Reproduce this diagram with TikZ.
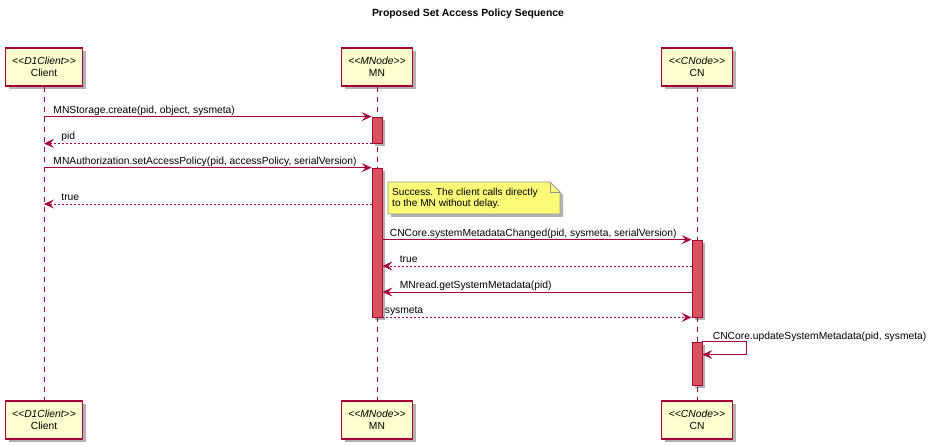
\documentclass[tikz,border=0pt]{standalone}
\usepackage{fontspec}
\setmainfont{Liberation Sans}
\usetikzlibrary{positioning}
\usetikzlibrary{arrows.meta}
\usetikzlibrary{shadows}
\definecolor{umlred}{RGB}{168,0,54}
\definecolor{partfill}{RGB}{254,254,206}
\definecolor{actfill}{RGB}{215,82,92}
\definecolor{notefill}{RGB}{251,251,119}
\definecolor{notegray}{RGB}{150,150,150}
\newcommand{\msgfont}{\fontsize{10.3}{12}\selectfont}
\newcommand{\stereo}[1]{\textit{<\kern0pt<#1>\kern0pt>}}
\frenchspacing
\tikzset{
  umlshadow/.style={drop shadow={shadow xshift=3pt, shadow yshift=-3pt, fill=black, opacity=.3}},
  part/.style={draw=umlred, line width=1.3pt, fill=partfill, minimum width=71pt, minimum height=38pt,
    align=center, font=\msgfont, inner sep=0pt, umlshadow},
  actbar/.style={draw=umlred, line width=0.8pt, fill=actfill, minimum width=10pt, inner sep=0pt, umlshadow},
  life/.style={draw=umlred, line width=0.8pt, dash pattern=on 5pt off 5pt},
  msg/.style={draw=umlred, line width=0.9pt, -{Stealth[length=10pt,width=9pt,inset=4pt]}},
  ret/.style={msg, dash pattern=on 2pt off 2pt},
  lbl/.style={font=\msgfont, anchor=base west, inner sep=0pt, yshift=3.5pt, text=black},
}

\begin{document}
\begin{tikzpicture}[x=1pt, y=-1pt]
	\useasboundingbox (0,0) rectangle (936,446);
	
	\node[font=\bfseries\fontsize{10.4}{12}\selectfont] (title) at (468,14) {Proposed Set Access Policy Sequence};
	
	% participants
	\node[part, minimum width=77pt] (cliT) at (44,67) {\stereo{D1Client}\\Client};
	\node[part] (mnT) at (377,67) {\stereo{MNode}\\MN};
	\node[part] (cnT) at (697,67) {\stereo{CNode}\\CN};
	
	\node[part, minimum width=77pt] (cliB) at (44,420) {\stereo{D1Client}\\Client};
	\node[part] (mnB) at (377,420) {\stereo{MNode}\\MN};
	\node[part] (cnB) at (697,420) {\stereo{CNode}\\CN};
	
	\draw[life] (cliT) -- (cliB);
	\draw[life] (mnT) -- (mnB);
	\draw[life] (cnT) -- (cnB);
	
	% activations
	\node[actbar, minimum height=26pt] (mnA1) at (377,130) {};
	\node[actbar, minimum height=149pt] (mnA2) at (377,242.5) {};
	\node[actbar, minimum height=77pt] (cnA1) at (697,278.5) {};
	\node[actbar, minimum height=43pt] (cnA2) at (697,363.5) {};
	
	% messages
	\draw[msg] (cliT |- mnA1.north) -- (mnA1.north west) node[lbl, pos=0, xshift=9pt] {MNStorage.create(pid, object, sysmeta)};
	\draw[ret] (mnA1.south west) -- (cliT |- mnA1.south) node[lbl, pos=1, xshift=17pt] {pid};
	
	\draw[msg] (cliT |- mnA2.north) -- (mnA2.north west) node[lbl, pos=0, xshift=9pt] {MNAuthorization.setAccessPolicy(pid, accessPolicy, serialVersion)};
	\draw[ret] (mnA2.west |- 0,204) -- (cliT |- 0,204) node[lbl, pos=1, xshift=17pt] {true};
	
	% note
	\fill[black, opacity=.3] (391,185) -- (553,185) -- (563,195) -- (563,217) -- (391,217) -- cycle;
	\filldraw[draw=notegray, fill=notefill, line width=0.8pt] (388,182) -- (550,182) -- (560,192) -- (560,214) -- (388,214) -- cycle;
	\draw[notegray, line width=0.8pt] (550,182) -- (550,192) -- (560,192);
	\node[font=\fontsize{10.1}{11.5}\selectfont, align=left, anchor=west, inner sep=0pt] (note) at (392,198.5) {Success. The client calls directly\\to the MN without delay.};
	
	\draw[msg] (mnA2.east |- cnA1.north) -- (cnA1.north west) node[lbl, pos=0, xshift=7pt] {CNCore.systemMetadataChanged(pid, sysmeta, serialVersion)};
	\draw[ret] (cnA1.west |- 0,266) -- (mnA2.east |- 0,266) node[lbl, pos=1, xshift=17pt] {true};
	\draw[msg] (cnA1.west |- 0,292) -- (mnA2.east |- 0,292) node[lbl, pos=1, xshift=17pt] {MNread.getSystemMetadata(pid)};
	\draw[ret] (mnA2.south east) -- (cnA1.south west) node[lbl, pos=0, xshift=2pt] {sysmeta};
	
	\draw[msg] (cnA2.north east) node[lbl, xshift=10pt, yshift=-1pt] {CNCore.updateSystemMetadata(pid, sysmeta)} -- ++(44,0) -- ++(0,13) -- ++(-44,0);
\end{tikzpicture}
\end{document}
